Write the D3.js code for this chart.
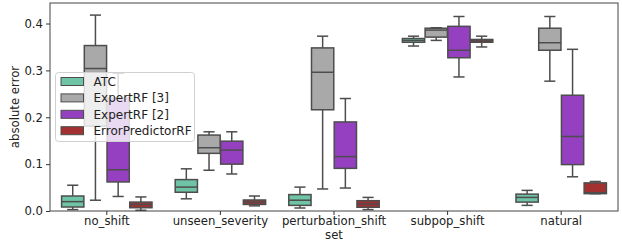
<!DOCTYPE html>
<html><head><meta charset="utf-8">
<script src="https://cdn.jsdelivr.net/npm/d3@7"></script>
<style>body{margin:0;background:#fff;} svg{display:block;}</style>
</head><body>
<svg id="chart" width="622" height="241"></svg>
<script>
const categories = ["no_shift","unseen_severity","perturbation_shift","subpop_shift","natural"];
const series = ["ATC","ExpertRF [3]","ExpertRF [2]","ErrorPredictorRF"];
const colors = ["#70c4a6","#a9a9a9","#9540c0","#a33131"];
const yTicks = [0.0,0.1,0.2,0.3,0.4];
// each entry: [whiskerLow, q1, median, q3, whiskerHigh] per category
const ATC = [
  [0.003,0.0085,0.020,0.032,0.055],
  [0.026,0.040,0.051,0.067,0.090],
  [0.0064,0.012,0.023,0.035,0.051],
  [0.352,0.360,0.364,0.368,0.373],
  [0.012,0.019,0.029,0.036,0.044]
];
const ExpertRF3 = [
  [0.023,0.181,0.304,0.353,0.418],
  [0.087,0.123,0.135,0.162,0.169],
  [0.047,0.216,0.296,0.348,0.373],
  [0.364,0.371,0.386,0.390,0.391],
  [0.277,0.343,0.359,0.390,0.415]
];
const ExpertRF2 = [
  [0.031,0.062,0.088,0.241,0.294],
  [0.079,0.100,0.130,0.149,0.169],
  [0.049,0.091,0.116,0.190,0.240],
  [0.286,0.327,0.343,0.394,0.415],
  [0.073,0.099,0.159,0.247,0.345]
];
const ErrorPredictorRF = [
  [0.0015,0.007,0.014,0.019,0.030],
  [0.011,0.014,0.019,0.0235,0.032],
  [0.003,0.008,0.015,0.022,0.029],
  [0.350,0.360,0.363,0.366,0.373],
  [0.037,0.037,0.039,0.060,0.063]
];
const seriesData = [ATC, ExpertRF3, ExpertRF2, ErrorPredictorRF];

const svg = d3.select("#chart");
const m = {left:50, right:4, top:3, bottom:30};
const W = 622, H = 241;
const x = d3.scaleBand().domain(categories).range([m.left, W-m.right]).paddingInner(0).paddingOuter(0);
const bw = x.bandwidth()*0.2;
const offset = i => x.bandwidth()*0.1 + i*bw;
const y = d3.scaleLinear().domain([0, 0.4438]).range([H-m.bottom, m.top]);
const font = "DejaVu Sans, sans-serif";
const fs = 11.7;
const lc = "#4d4d4d";

const g = svg.append("g");
seriesData.forEach((arr, si) => {
  arr.forEach((d, ci) => {
    const x0 = x(categories[ci]) + offset(si);
    const xc = x0 + bw/2;
    const w = bw*0.98;
    const xl = xc - w/2;
    const [wl,q1,med,q3,wh] = d;
    const grp = g.append("g");
    grp.append("line").attr("x1",xc).attr("x2",xc).attr("y1",y(q3)).attr("y2",y(wh)).attr("stroke",lc).attr("stroke-width",1.5);
    grp.append("line").attr("x1",xc).attr("x2",xc).attr("y1",y(q1)).attr("y2",y(wl)).attr("stroke",lc).attr("stroke-width",1.5);
    grp.append("line").attr("x1",xc-w/4).attr("x2",xc+w/4).attr("y1",y(wh)).attr("y2",y(wh)).attr("stroke",lc).attr("stroke-width",1.5);
    grp.append("line").attr("x1",xc-w/4).attr("x2",xc+w/4).attr("y1",y(wl)).attr("y2",y(wl)).attr("stroke",lc).attr("stroke-width",1.5);
    grp.append("rect").attr("x",xl).attr("width",w).attr("y",y(q3)).attr("height",y(q1)-y(q3))
      .attr("fill",colors[si]).attr("stroke",lc).attr("stroke-width",1.5);
    grp.append("line").attr("x1",xl).attr("x2",xl+w).attr("y1",y(med)).attr("y2",y(med)).attr("stroke",lc).attr("stroke-width",1.5);
  });
});

// axes frame
svg.append("rect").attr("x",m.left).attr("y",m.top).attr("width",W-m.right-m.left).attr("height",H-m.bottom-m.top)
  .attr("fill","none").attr("stroke","#444").attr("stroke-width",1);

const yAxis = svg.append("g").attr("transform",`translate(${m.left},0)`)
  .call(d3.axisLeft(y).tickValues(yTicks).tickFormat(d3.format(".1f")).tickSize(4).tickPadding(3));
yAxis.select(".domain").remove();
yAxis.selectAll("text").attr("font-family",font).attr("font-size",fs).attr("fill","#222");
yAxis.selectAll("line").attr("stroke","#333");

const xAxis = svg.append("g").attr("transform",`translate(0,${H-m.bottom})`)
  .call(d3.axisBottom(x).tickSize(4).tickPadding(1.5));
xAxis.select(".domain").remove();
xAxis.selectAll("text").attr("font-family",font).attr("font-size",fs).attr("fill","#222");
xAxis.selectAll("line").attr("stroke","#333");

svg.append("text").attr("x", (m.left+W-m.right)/2).attr("y", 239).attr("text-anchor","middle")
  .attr("font-family",font).attr("font-size",fs).attr("fill","#222").text("set");
svg.append("text").attr("transform",`translate(19,${(m.top+H-m.bottom)/2}) rotate(-90)`).attr("text-anchor","middle")
  .attr("font-family",font).attr("font-size",fs).attr("fill","#222").text("absolute error");

// legend
const lg = svg.append("g").attr("transform","translate(55.5,72.5)");
lg.append("rect").attr("width",139).attr("height",69).attr("rx",3)
  .attr("fill","rgba(255,255,255,0.8)").attr("stroke","#d0d0d0").attr("stroke-width",1);
series.forEach((s,i)=>{
  const yy = 9 + i*16.4;
  lg.append("rect").attr("x",5.5).attr("y",yy-4).attr("width",22.5).attr("height",8)
    .attr("fill",colors[i]).attr("stroke",lc).attr("stroke-width",1);
  lg.append("text").attr("x",38).attr("y",yy+4.5).attr("font-family",font).attr("font-size",12).attr("fill","#222").text(s);
});
</script>
</body></html>
